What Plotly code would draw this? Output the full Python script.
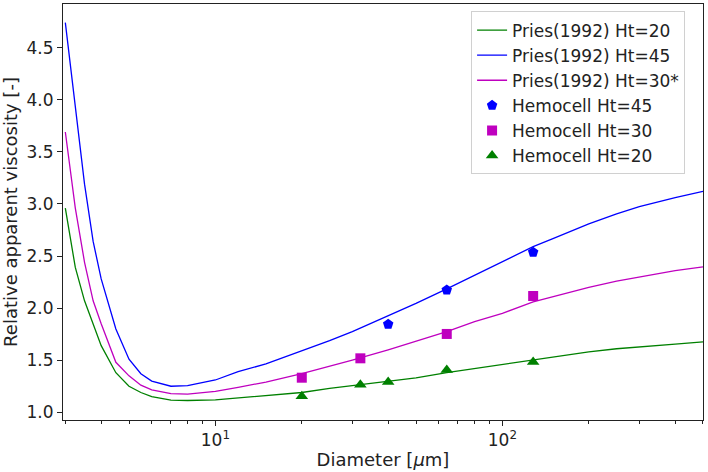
import plotly.graph_objects as go

# Pries (1992) model curves
diam = [3, 3.25, 3.5, 3.75, 4, 4.5, 5, 5.5, 6, 7, 8, 10, 12, 15, 20, 25, 30, 40, 50,
        64, 80, 100, 128, 150, 200, 250, 300, 400, 500]
pries_ht20 = [2.96, 2.39, 2.07, 1.84, 1.64, 1.38, 1.25, 1.19, 1.15, 1.117, 1.113, 1.12, 1.14,
              1.16, 1.19, 1.23, 1.255, 1.30, 1.33, 1.38, 1.42, 1.46, 1.50, 1.53, 1.58, 1.61,
              1.63, 1.655, 1.675]
pries_ht45 = [4.74, 3.95, 3.19, 2.64, 2.28, 1.80, 1.51, 1.37, 1.30, 1.25, 1.255, 1.31, 1.39,
              1.465, 1.588, 1.688, 1.775, 1.923, 2.045, 2.185, 2.314, 2.443, 2.59, 2.666,
              2.808, 2.905, 2.973, 3.06, 3.12]
pries_ht30 = [3.69, 2.96, 2.44, 2.07, 1.85, 1.48, 1.35, 1.26, 1.215, 1.18, 1.175, 1.20, 1.24,
              1.29, 1.37, 1.44, 1.50, 1.60, 1.68, 1.774, 1.87, 1.95, 2.06, 2.11, 2.20, 2.26,
              2.30, 2.36, 2.395]

# Hemocell simulation points
hemo45_d = [40, 64, 128]
hemo45_v = [1.845, 2.174, 2.536]
hemo30_d = [20, 32, 64, 128]
hemo30_v = [1.332, 1.518, 1.752, 2.116]
hemo20_d = [20, 32, 40, 64, 128]
hemo20_v = [1.155, 1.265, 1.29, 1.405, 1.482]

y_ticks = [1.0, 1.5, 2.0, 2.5, 3.0, 3.5, 4.0, 4.5]
x_major = [10, 100]
x_major_text = ["10<sup>1</sup>", "10<sup>2</sup>"]
x_minor = [3, 4, 5, 6, 7, 8, 9, 20, 30, 40, 50, 60, 70, 80, 90, 200, 300, 400, 500]

GREEN = "#008000"
BLUE = "#0000ff"
MAGENTA = "#bf00bf"

fig = go.Figure()
fig.add_trace(go.Scatter(x=diam, y=pries_ht20, mode="lines", name="Pries(1992) Ht=20",
                         line=dict(color=GREEN, width=1.3), legendgroup="a"))
fig.add_trace(go.Scatter(x=diam, y=pries_ht45, mode="lines", name="Pries(1992) Ht=45",
                         line=dict(color=BLUE, width=1.3), legendgroup="b"))
fig.add_trace(go.Scatter(x=diam, y=pries_ht30, mode="lines", name="Pries(1992) Ht=30*",
                         line=dict(color=MAGENTA, width=1.3), legendgroup="c"))
fig.add_trace(go.Scatter(x=hemo45_d, y=hemo45_v, mode="markers", name="Hemocell Ht=45",
                         marker=dict(color=BLUE, symbol="pentagon", size=11), legendgroup="d"))
fig.add_trace(go.Scatter(x=hemo30_d, y=hemo30_v, mode="markers", name="Hemocell Ht=30",
                         marker=dict(color=MAGENTA, symbol="square", size=10), legendgroup="e"))
fig.add_trace(go.Scatter(x=hemo20_d, y=hemo20_v, mode="markers", name="Hemocell Ht=20",
                         marker=dict(color=GREEN, symbol="triangle-up", size=11), legendgroup="f"))

fig.update_layout(
    width=708, height=472,
    margin=dict(l=63, r=5, t=4, b=52),
    paper_bgcolor="white", plot_bgcolor="white",
    font=dict(family="DejaVu Sans", size=17, color="#222"),
    showlegend=True,
    legend=dict(x=0.972, y=0.982, xanchor="right", yanchor="top",
                bgcolor="rgba(255,255,255,0.8)", bordercolor="#d0d0d0", borderwidth=1,
                tracegroupgap=6.8, font=dict(size=17), traceorder="normal"),
    xaxis=dict(type="log", range=[0.469, 2.699], showgrid=False, zeroline=False,
               showline=True, linecolor="#222", linewidth=1, mirror=True,
               ticks="outside", ticklen=5, tickcolor="#222",
               tickmode="array", tickvals=x_major, ticktext=x_major_text,
               tickfont=dict(size=17),
               minor=dict(ticks="outside", ticklen=3, tickcolor="#222",
                          tickmode="array", tickvals=x_minor, showgrid=False),
               title=dict(text="Diameter [<i>μ</i>m]", standoff=3, font=dict(size=18))),
    yaxis=dict(range=[0.926, 4.919], showgrid=False, zeroline=False,
               showline=True, linecolor="#222", linewidth=1, mirror=True,
               ticks="outside", ticklen=5, tickcolor="#222",
               tickmode="array", tickvals=y_ticks, tickformat=".1f",
               tickfont=dict(size=17),
               title=dict(text="Relative apparent viscosity [-]", standoff=6,
                          font=dict(size=18))),
)

fig.write_html("out.html", config={"displayModeBar": False},
               post_script="document.body.style.margin='0';")
